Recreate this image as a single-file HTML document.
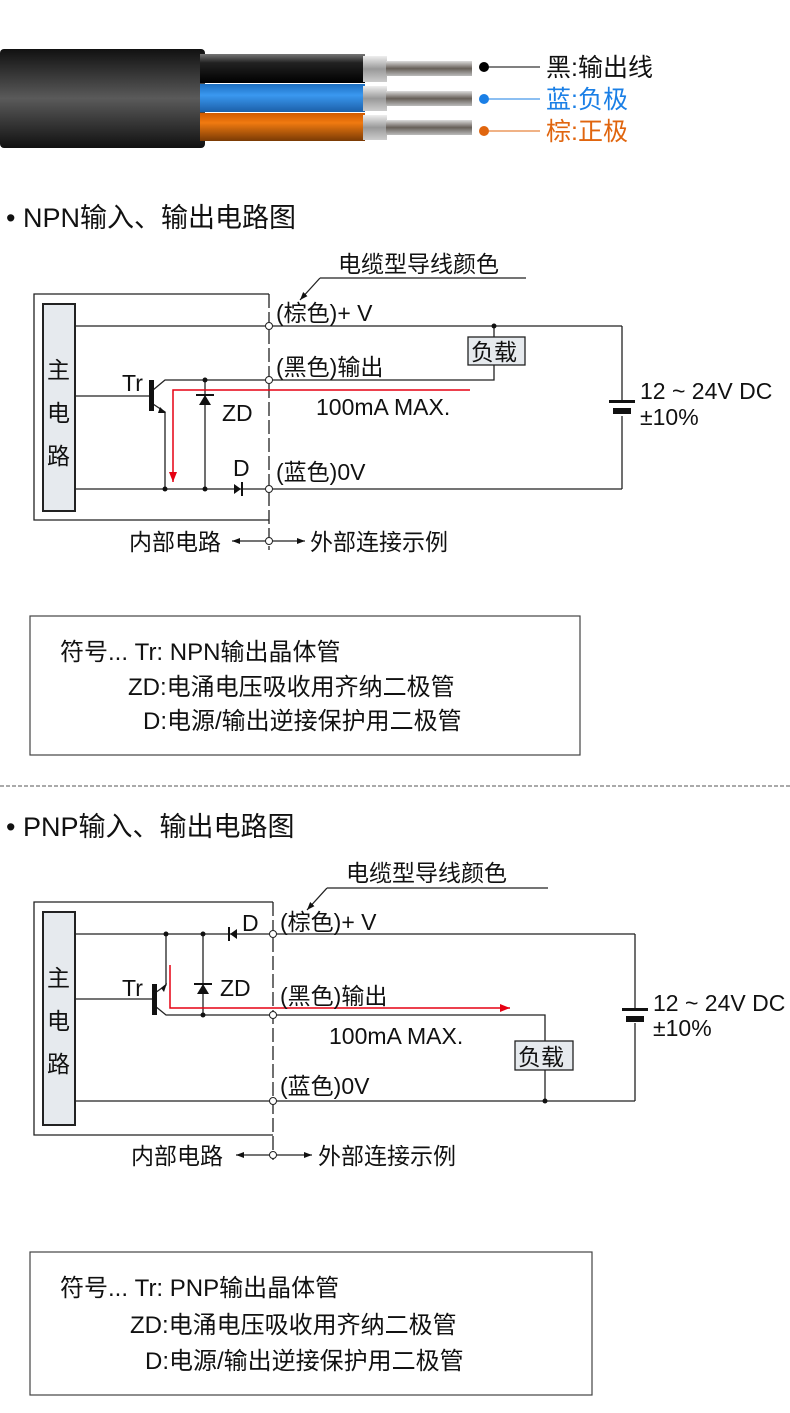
<!DOCTYPE html>
<html><head><meta charset="utf-8"><style>
html,body{margin:0;padding:0;background:#fff}
svg{display:block}
text{font-family:"Liberation Sans","Noto Sans CJK SC",sans-serif;fill:#111}
</style></head><body>
<svg width="790" height="1413" viewBox="0 0 790 1413" xmlns="http://www.w3.org/2000/svg">
<defs>
<linearGradient id="jk" x1="0" y1="0" x2="0" y2="1"><stop offset="0" stop-color="#111"/><stop offset=".5" stop-color="#5a5a5a"/><stop offset="1" stop-color="#111"/></linearGradient>
<linearGradient id="bk" x1="0" y1="0" x2="0" y2="1"><stop offset="0" stop-color="#777"/><stop offset=".3" stop-color="#222"/><stop offset="1" stop-color="#000"/></linearGradient>
<linearGradient id="bl" x1="0" y1="0" x2="0" y2="1"><stop offset="0" stop-color="#1d6fc0"/><stop offset=".4" stop-color="#3a98f0"/><stop offset="1" stop-color="#1c5fa8"/></linearGradient>
<linearGradient id="or" x1="0" y1="0" x2="0" y2="1"><stop offset="0" stop-color="#d05a00"/><stop offset=".35" stop-color="#f07a10"/><stop offset="1" stop-color="#7a3a05"/></linearGradient>
<linearGradient id="sv" x1="0" y1="0" x2="0" y2="1"><stop offset="0" stop-color="#eee"/><stop offset=".5" stop-color="#999"/><stop offset="1" stop-color="#ccc"/></linearGradient>
<linearGradient id="cu" x1="0" y1="0" x2="0" y2="1"><stop offset="0" stop-color="#ddd"/><stop offset=".5" stop-color="#665f58"/><stop offset="1" stop-color="#bbb"/></linearGradient>
<marker id="ar" markerWidth="8" markerHeight="6" refX="8" refY="3" orient="auto" markerUnits="userSpaceOnUse"><path d="M0,0L8,3L0,6z" fill="#111"/></marker>
<marker id="ra" markerWidth="10" markerHeight="8" refX="10" refY="4" orient="auto" markerUnits="userSpaceOnUse"><path d="M0,0L10,4L0,8z" fill="#e60012"/></marker>
</defs>
<rect x="0" y="49" width="205" height="99" rx="4" fill="url(#jk)"/>
<rect x="200" y="54" width="165" height="29" fill="url(#bk)"/>
<rect x="200" y="84" width="165" height="28" fill="url(#bl)"/>
<rect x="200" y="113" width="165" height="28" fill="url(#or)"/>
<rect x="363" y="56" width="24" height="26" fill="url(#sv)"/>
<rect x="363" y="86" width="24" height="25" fill="url(#sv)"/>
<rect x="363" y="115" width="24" height="25" fill="url(#sv)"/>
<rect x="386" y="61" width="86" height="15" fill="url(#cu)"/>
<rect x="386" y="91" width="86" height="15" fill="url(#cu)"/>
<rect x="386" y="120" width="86" height="15" fill="url(#cu)"/>
<circle cx="484" cy="67" r="5" fill="#000"/><line x1="484" y1="67" x2="540" y2="67" stroke="#000"/>
<circle cx="484" cy="99" r="5" fill="#1a7fe6"/><line x1="484" y1="99" x2="540" y2="99" stroke="#1a7fe6"/>
<circle cx="484" cy="131" r="5" fill="#e0650e"/><line x1="484" y1="131" x2="540" y2="131" stroke="#e0650e"/>
<text x="546" y="76" font-size="25">黑:输出线</text>
<text x="546" y="108" font-size="25" style="fill:#1a7fe6">蓝:负极</text>
<text x="546" y="140" font-size="25" style="fill:#e0650e">棕:正极</text>

<text x="6" y="227" font-size="27">• NPN输入、输出电路图</text>
<g stroke="#222" stroke-width="1.3" fill="none">
<path d="M269,294H34V520H269"/>
<rect x="43" y="304" width="32" height="207" fill="#e6eaee" stroke-width="2"/>
<line x1="269" y1="294" x2="269" y2="550" stroke-dasharray="14,4"/>
<line x1="75" y1="326" x2="622" y2="326"/>
<line x1="75" y1="489" x2="622" y2="489"/>
<line x1="622" y1="326" x2="622" y2="401"/><line x1="622" y1="416" x2="622" y2="489"/>
<line x1="75" y1="396" x2="150" y2="396"/>
<path d="M153,390L165,380H494V364"/>
<path d="M153,404L165,412V489"/>
<line x1="205" y1="380" x2="205" y2="489"/>
<line x1="494" y1="326" x2="494" y2="337"/>
<path d="M320,278L300,300" marker-end="url(#ar)"/>
<line x1="320" y1="278" x2="526" y2="278"/>
<line x1="269" y1="541" x2="232" y2="541" marker-end="url(#ar)"/>
<line x1="269" y1="541" x2="305" y2="541" marker-end="url(#ar)"/>
</g>
<rect x="149" y="380" width="5" height="31" fill="#111"/>
<path d="M160,407L166,413L158,413z" fill="#111"/>
<path d="M199,405h12l-6,-10z" fill="#111"/><path d="M196,395h18" stroke="#111" stroke-width="2" fill="none"/>
<path d="M234,484v10l7,-5z" fill="#111"/><line x1="242" y1="482" x2="242" y2="496" stroke="#111" stroke-width="2"/>
<g fill="#111"><circle cx="205" cy="380" r="2.5"/><circle cx="205" cy="489" r="2.5"/><circle cx="165" cy="489" r="2.5"/><circle cx="494" cy="326" r="2.5"/></g>
<g fill="#fff" stroke="#222"><circle cx="269" cy="326" r="3.5"/><circle cx="269" cy="380" r="3.5"/><circle cx="269" cy="489" r="3.5"/><circle cx="269" cy="541" r="3.5"/></g>
<rect x="468" y="337" width="57" height="28" fill="#e6eaee" stroke="#222" stroke-width="1.3"/>
<text x="471" y="360" font-size="23">负载</text>
<rect x="609" y="400" width="26" height="3" fill="#111"/><rect x="613" y="408" width="18" height="6" fill="#111"/>
<path d="M470,390H173V482" stroke="#e60012" stroke-width="1.5" fill="none" marker-end="url(#ra)"/>
<g font-size="23">
<text x="47" y="378">主</text><text x="47" y="421">电</text><text x="47" y="464">路</text>
<text x="122" y="391">Tr</text><text x="222" y="421">ZD</text><text x="233" y="476">D</text>
<text x="276" y="321">(棕色)+ V</text><text x="276" y="375">(黑色)输出</text><text x="276" y="480">(蓝色)0V</text>
<text x="316" y="415">100mA MAX.</text>
<text x="338" y="272">电缆型导线颜色</text>
<text x="640" y="399">12 ~ 24V DC</text><text x="640" y="425">±10%</text>
<text x="129" y="550">内部电路</text><text x="310" y="550">外部连接示例</text>
</g>
<rect x="30" y="616" width="550" height="139" fill="none" stroke="#444" stroke-width="1.2"/>
<g font-size="24">
<text x="60" y="660">符号... Tr: NPN输出晶体管</text>
<text x="128" y="695">ZD:电涌电压吸收用齐纳二极管</text>
<text x="143" y="729">D:电源/输出逆接保护用二极管</text>
</g>
<line x1="0" y1="786" x2="790" y2="786" stroke="#555" stroke-dasharray="4,2"/>

<text x="6" y="836" font-size="27">• PNP输入、输出电路图</text>
<g stroke="#222" stroke-width="1.3" fill="none">
<path d="M273,902H34V1135H273"/>
<rect x="43" y="912" width="32" height="213" fill="#e6eaee" stroke-width="2"/>
<line x1="273" y1="902" x2="273" y2="1160" stroke-dasharray="14,4"/>
<line x1="75" y1="934" x2="635" y2="934"/>
<line x1="75" y1="1101" x2="635" y2="1101"/>
<line x1="635" y1="934" x2="635" y2="1008"/><line x1="635" y1="1023" x2="635" y2="1101"/>
<line x1="75" y1="999" x2="153" y2="999"/>
<path d="M166,934V985L155,993"/>
<path d="M155,1006L166,1015H545V1041"/>
<line x1="203" y1="934" x2="203" y2="1015"/>
<line x1="545" y1="1070" x2="545" y2="1101"/>
<path d="M327,888L307,910" marker-end="url(#ar)"/>
<line x1="327" y1="888" x2="548" y2="888"/>
<line x1="273" y1="1155" x2="236" y2="1155" marker-end="url(#ar)"/>
<line x1="273" y1="1155" x2="312" y2="1155" marker-end="url(#ar)"/>
</g>
<rect x="152" y="984" width="5" height="31" fill="#111"/>
<path d="M161,988L167,983L164,992z" fill="#111"/>
<path d="M197,994h12l-6,-10z" fill="#111"/><path d="M194,984h18" stroke="#111" stroke-width="2" fill="none"/>
<path d="M237,929v10l-7,-5z" fill="#111"/><line x1="229" y1="927" x2="229" y2="941" stroke="#111" stroke-width="2"/>
<g fill="#111"><circle cx="166" cy="934" r="2.5"/><circle cx="203" cy="934" r="2.5"/><circle cx="203" cy="1015" r="2.5"/><circle cx="545" cy="1101" r="2.5"/></g>
<g fill="#fff" stroke="#222"><circle cx="273" cy="934" r="3.5"/><circle cx="273" cy="1015" r="3.5"/><circle cx="273" cy="1101" r="3.5"/><circle cx="273" cy="1155" r="3.5"/></g>
<rect x="515" y="1041" width="58" height="29" fill="#e6eaee" stroke="#222" stroke-width="1.3"/>
<text x="518" y="1065" font-size="23">负载</text>
<rect x="622" y="1008" width="26" height="3" fill="#111"/><rect x="626" y="1016" width="18" height="6" fill="#111"/>
<path d="M170,965V1008H510" stroke="#e60012" stroke-width="1.5" fill="none" marker-end="url(#ra)"/>
<g font-size="23">
<text x="47" y="986">主</text><text x="47" y="1029">电</text><text x="47" y="1072">路</text>
<text x="122" y="996">Tr</text><text x="220" y="996">ZD</text><text x="242" y="931">D</text>
<text x="280" y="930">(棕色)+ V</text><text x="280" y="1004">(黑色)输出</text><text x="280" y="1094">(蓝色)0V</text>
<text x="329" y="1044">100mA MAX.</text>
<text x="346" y="881">电缆型导线颜色</text>
<text x="653" y="1011">12 ~ 24V DC</text><text x="653" y="1036">±10%</text>
<text x="131" y="1164">内部电路</text><text x="318" y="1164">外部连接示例</text>
</g>
<rect x="30" y="1252" width="562" height="143" fill="none" stroke="#444" stroke-width="1.2"/>
<g font-size="24">
<text x="60" y="1296">符号... Tr: PNP输出晶体管</text>
<text x="130" y="1333">ZD:电涌电压吸收用齐纳二极管</text>
<text x="145" y="1369">D:电源/输出逆接保护用二极管</text>
</g>
</svg>
</body></html>
